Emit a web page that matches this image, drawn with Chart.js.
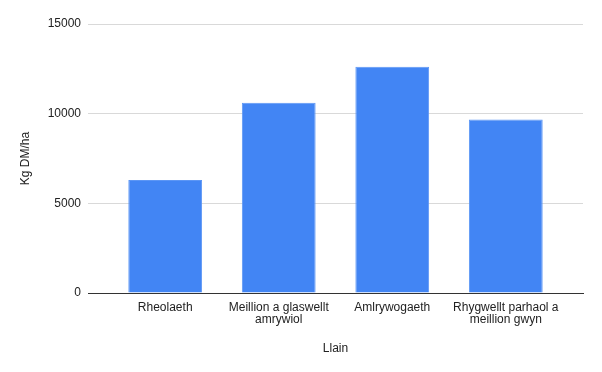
<!DOCTYPE html>
<html>
<head>
<meta charset="utf-8">
<script src="https://cdn.jsdelivr.net/npm/chart.js@4"></script>
<style>
  html, body { margin: 0; padding: 0; background: #fff; }
  #wrap { width: 602px; height: 372px; }
</style>
</head>
<body>
<div id="wrap"><canvas id="chart"></canvas></div>
<script>
/* bar chart — Llain vs Kg DM/ha */

const categories = [
  'Rheolaeth',
  ['Meillion a glaswellt', 'amrywiol'],
  'Amlrywogaeth',
  ['Rhygwellt parhaol a', 'meillion gwyn'],
];
const values = [6300, 10610, 12620, 9680];
const yTicks = [0, 5000, 10000, 15000];

const FONT = { family: "'Liberation Sans', Arial, sans-serif", size: 12 };

const ctx = document.getElementById('chart').getContext('2d');
new Chart(ctx, {
  type: 'bar',
  data: {
    datasets: [{
      data: values.map((v, i) => ({ x: i, y: v })),
      backgroundColor: '#4285f4',
      borderColor: '#5c96f5',
      borderWidth: 1,
      barPercentage: 0.65,
      categoryPercentage: 1,
    }]
  },
  options: {
    responsive: true,
    maintainAspectRatio: false,
    animation: false,
    layout: { padding: { top: 24, right: 19, left: 0, bottom: 0 } },
    plugins: { legend: { display: false }, tooltip: { enabled: false } },
    scales: {
      x: {
        type: 'linear',
        offset: false,
        min: -0.68, max: 3.68,
        afterBuildTicks: s => { s.ticks = categories.map((c, i) => ({ value: i })); },
        grid: { display: false, drawTicks: false },
        border: { color: '#333333', width: 1 },
        ticks: {
          color: '#222222', font: { ...FONT, lineHeight: 1.0 }, padding: 9,
          maxRotation: 0, autoSkip: false,
          callback: v => categories[v]
        },
        title: {
          display: true, text: 'Llain', color: '#222222', font: FONT,
          padding: { top: 0, bottom: 16 }
        },
        afterFit: s => { s.height = 79; }
      },
      y: {
        min: 0, max: 15000,
        afterBuildTicks: s => { s.ticks = yTicks.map(v => ({ value: v })); },
        grid: { color: '#d9d9d9', drawTicks: false },
        border: { display: false },
        ticks: { color: '#222222', font: FONT, padding: 7, callback: v => String(v) },
        title: {
          display: true, text: 'Kg DM/ha', color: '#222222', font: FONT,
          padding: { top: 18, bottom: 0 }
        },
        afterFit: s => { s.width = 88; }
      }
    }
  }
});
</script>
</body>
</html>
